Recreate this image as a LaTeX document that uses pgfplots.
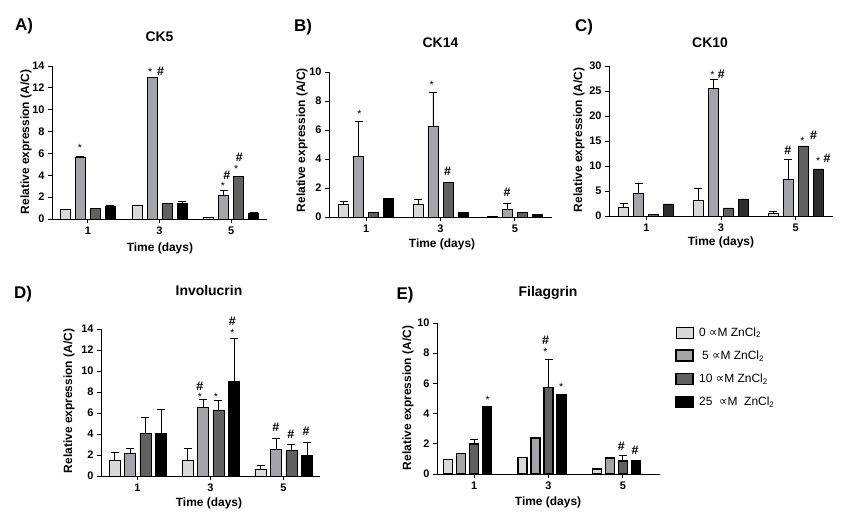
\documentclass[border=0pt]{standalone}
\usepackage{pgfplots}
\pgfplotsset{compat=1.18}
\usepackage{pgfplotstable}
\usepackage{fontspec}
\setmainfont{Liberation Sans}
\newfontfamily\djv{DejaVu Sans}
\definecolor{c0}{RGB}{217,217,217}
\definecolor{c1}{RGB}{163,163,170}
\definecolor{c2}{RGB}{96,96,96}
\definecolor{c3}{RGB}{0,0,0}
\definecolor{c3c}{RGB}{45,45,45}
\newcommand\fs[1]{\fontsize{#1}{#1}\selectfont}

\pgfplotstableread{
x y0 e0 y1 e1 y2 e2 y3 e3
1 0.85 0 5.62 0.09 1.0 0 1.15 0.06
3 1.2 0 12.95 0 1.4 0 1.4 0.18
5 0.18 0 2.2 0.38 3.92 0 0.55 0.07
}\tA
\pgfplotstableread{
x y0 e0 y1 e1 y2 e2 y3 e3
1 0.89 0.21 4.2 2.4 0.3 0 1.26 0
3 0.89 0.3 6.25 2.35 2.4 0 0.3 0
5 0.07 0 0.55 0.41 0.34 0 0.2 0
}\tB
\pgfplotstableread{
x y0 e0 y1 e1 y2 e2 y3 e3
1 1.8 0.8 4.46 2.14 0.3 0 2.4 0
3 3.2 2.4 25.5 1.8 1.6 0 3.4 0
5 0.6 0.33 7.3 4.1 14.0 0 9.4 0
}\tC
\pgfplotstableread{
x y0 e0 y1 e1 y2 e2 y3 e3
1 1.46 0.76 2.13 0.47 4.03 1.56 4.03 2.32
3 1.46 1.14 6.5 0.77 6.29 0.88 9.0 4.08
5 0.65 0.4 2.55 1.07 2.4 0.63 2.0 1.2
}\tD
\pgfplotstableread{
x y0 e0 y1 e1 y2 e2 y3 e3
1 0.95 0 1.37 0 1.98 0.31 4.45 0
3 1.08 0 2.38 0 5.73 1.89 5.24 0
5 0.33 0 1.05 0 0.86 0.35 0.88 0
}\tE

\pgfplotsset{
  panel/.style={
    scale only axis, anchor=south west, clip=false,
    xmin=0, xmax=6, ymin=0, enlargelimits=false,
    axis x line*=bottom, axis y line*=left,
    axis line style={line width=0.9bp, -},
    xtick={1,3,5}, tick align=outside, major tick length=4bp,
    major tick style={line width=0.9bp, black},
    /pgf/number format/assume math mode=true,
    tick label style={font=\bfseries\fs{11}},
    xlabel={Time (days)}, ylabel={Relative expression (A/C)},
    label style={font=\bfseries\fs{12}},
    title style={font=\bfseries\fs{14}, anchor=center},
    xlabel style={anchor=center}, ylabel style={anchor=center},
  },
  bars/.style={ybar, bar width=10bp, bar shift=0pt, draw=black, line width=0.8bp,
    error bars/y dir=plus, error bars/y explicit,
    error bars/error bar style={line width=0.8bp, black},
    error bars/error mark options={rotate=90, line width=0.8bp, mark size=4bp, black}},
  star/.style={draw=none, mark=none, nodes near coords={*},
    nodes near coords style={anchor=north, inner sep=0pt, font=\fs{10.5}, text=black}},
  hash/.style={draw=none, mark=none, nodes near coords={\#},
    nodes near coords style={anchor=north, inner sep=0pt, font=\bfseries\fs{12.5}, text=black}},
}

\begin{document}
\begin{tikzpicture}
\path[use as bounding box] (0,0) rectangle (846bp,524bp);

% A
\begin{axis}[panel, at={(52bp,305bp)}, width=215bp, height=153bp,
  ymax=14, ytick={0,2,...,14}, title={CK5},
  title style={at={(axis description cs:0.5,1.15)}},
  xlabel style={at={(axis description cs:0.502,-0.19)}},
  ylabel style={at={(axis description cs:-0.121,0.503)}}]
\addplot[bars, fill=c0] table[x expr=\thisrow{x}-0.628, y=y0, y error=e0] {\tA};
\addplot[bars, fill=c1] table[x expr=\thisrow{x}-0.209, y=y1, y error=e1] {\tA};
\addplot[bars, fill=c2] table[x expr=\thisrow{x}+0.209, y=y2, y error=e2] {\tA};
\addplot[bars, fill=c3] table[x expr=\thisrow{x}+0.628, y=y3, y error=e3] {\tA};
\addplot[star] coordinates {(0.78,6.83) (2.74,13.84) (4.77,3.36) (5.14,4.94)};
\addplot[hash] coordinates {(3.03,13.93) (4.88,4.42) (5.23,6.02)};
\end{axis}

% B
\begin{axis}[panel, at={(329bp,307bp)}, width=223bp, height=145bp,
  ymax=10, ytick={0,2,...,10}, title={CK14},
  title style={at={(axis description cs:0.5,1.159)}},
  xlabel style={at={(axis description cs:0.507,-0.186)}},
  ylabel style={at={(axis description cs:-0.121,0.53)}}]
\addplot[bars, fill=c0] table[x expr=\thisrow{x}-0.605, y=y0, y error=e0] {\tB};
\addplot[bars, fill=c1] table[x expr=\thisrow{x}-0.202, y=y1, y error=e1] {\tB};
\addplot[bars, fill=c2] table[x expr=\thisrow{x}+0.202, y=y2, y error=e2] {\tB};
\addplot[bars, fill=c3] table[x expr=\thisrow{x}+0.605, y=y3, y error=e3] {\tB};
\addplot[star] coordinates {(0.815,7.38) (2.76,9.38)};
\addplot[hash] coordinates {(3.19,3.47) (4.79,1.98)};
\end{axis}

% C
\begin{axis}[panel, at={(609bp,308bp)}, width=224bp, height=150bp,
  ymax=30, ytick={0,5,...,30}, title={CK10},
  title style={at={(axis description cs:0.451,1.113)}},
  xlabel style={at={(axis description cs:0.5,-0.173)}},
  ylabel style={at={(axis description cs:-0.134,0.507)}}]
\addplot[bars, fill=c0] table[x expr=\thisrow{x}-0.603, y=y0, y error=e0] {\tC};
\addplot[bars, fill=c1] table[x expr=\thisrow{x}-0.201, y=y1, y error=e1] {\tC};
\addplot[bars, fill=c2] table[x expr=\thisrow{x}+0.201, y=y2, y error=e2] {\tC};
\addplot[bars, fill=c3c] table[x expr=\thisrow{x}+0.603, y=y3, y error=e3] {\tC};
\addplot[star] coordinates {(2.77,29.0) (5.18,15.7) (5.6,11.7)};
\addplot[hash] coordinates {(3.01,29.3) (4.79,14.07) (5.48,17.0) (5.84,12.4)};
\end{axis}

% D
\begin{axis}[panel, at={(101bp,48bp)}, width=219bp, height=147bp,
  ymax=14, ytick={0,2,...,14}, title={Involucrin},
  title style={at={(axis description cs:0.493,1.224)}},
  xlabel style={at={(axis description cs:0.493,-0.184)}},
  ylabel style={at={(axis description cs:-0.146,0.51)}}]
\addplot[bars, fill=c0, bar width=11bp] table[x expr=\thisrow{x}-0.63, y=y0, y error=e0] {\tD};
\addplot[bars, fill=c1, bar width=11bp] table[x expr=\thisrow{x}-0.205, y=y1, y error=e1] {\tD};
\addplot[bars, fill=c2, bar width=11bp] table[x expr=\thisrow{x}+0.219, y=y2, y error=e2] {\tD};
\addplot[bars, fill=c3, bar width=11bp] table[x expr=\thisrow{x}+0.644, y=y3, y error=e3] {\tD};
\addplot[star] coordinates {(2.71,7.87) (3.15,7.87) (3.6,14.0)};
\addplot[hash] coordinates {(2.71,8.98) (3.6,15.15) (4.79,5.11) (5.2,4.38) (5.62,4.64)};
\end{axis}

% E
\begin{axis}[panel, at={(437bp,50bp)}, width=223bp, height=151bp,
  ymax=10, ytick={0,2,...,10}, title={Filaggrin},
  title style={at={(axis description cs:0.498,1.159)}},
  xlabel style={at={(axis description cs:0.498,-0.185)}},
  ylabel style={at={(axis description cs:-0.130,0.503)}},
  legend style={at={(axis description cs:1.067,0.985)}, anchor=north west,
    draw=none, fill=none, font=\fs{12}, row sep=9bp, inner sep=0pt,
    cells={anchor=west}}]
\addlegendimage{legend image code/.code={\draw[fill=c0, draw=black, line width=0.8bp] (0bp,-5.5bp) rectangle (17bp,5.5bp); \path (21bp,0bp);}}
\addlegendimage{legend image code/.code={\draw[fill=c1, draw=black, line width=1.6bp] (0bp,-5.5bp) rectangle (17bp,5.5bp); \path (21bp,0bp);}}
\addlegendimage{legend image code/.code={\draw[fill=c2, draw=black, line width=1.6bp] (0bp,-5.5bp) rectangle (17bp,5.5bp); \path (21bp,0bp);}}
\addlegendimage{legend image code/.code={\draw[fill=c3, draw=black, line width=1.6bp] (0bp,-5.5bp) rectangle (17bp,5.5bp); \path (21bp,0bp);}}
\addplot[bars, fill=c0, bar width=9bp, line width=1.5bp] table[x expr=\thisrow{x}-0.70, y=y0, y error=e0] {\tE};
\addplot[bars, fill=c1, bar width=9bp, line width=1.5bp] table[x expr=\thisrow{x}-0.35, y=y1, y error=e1] {\tE};
\addplot[bars, fill=c2, bar width=9bp, line width=1.5bp] table[x=x, y=y2, y error=e2] {\tE};
\addplot[bars, fill=c3, bar width=9bp, line width=1.5bp] table[x expr=\thisrow{x}+0.35, y=y3, y error=e3] {\tE};
\addplot[star] coordinates {(1.36,5.18) (2.92,8.36) (3.34,6.0)};
\addplot[hash] coordinates {(2.92,9.13) (4.96,2.14) (5.33,1.85)};
\legend{0 {\djv ∝}M ZnCl\textsubscript{2}, \hspace{3bp}5 {\djv ∝}M ZnCl\textsubscript{2}, 10 {\djv ∝}M ZnCl\textsubscript{2}, 25 \ {\djv ∝}M \ ZnCl\textsubscript{2}}
\end{axis}

\node[font=\bfseries\fs{17}] at (24bp,498bp) {A)};
\node[font=\bfseries\fs{17}] at (303bp,497bp) {B)};
\node[font=\bfseries\fs{17}] at (584bp,497bp) {C)};
\node[font=\bfseries\fs{17}] at (23bp,230bp) {D)};
\node[font=\bfseries\fs{17}] at (405bp,229bp) {E)};
\end{tikzpicture}
\end{document}
